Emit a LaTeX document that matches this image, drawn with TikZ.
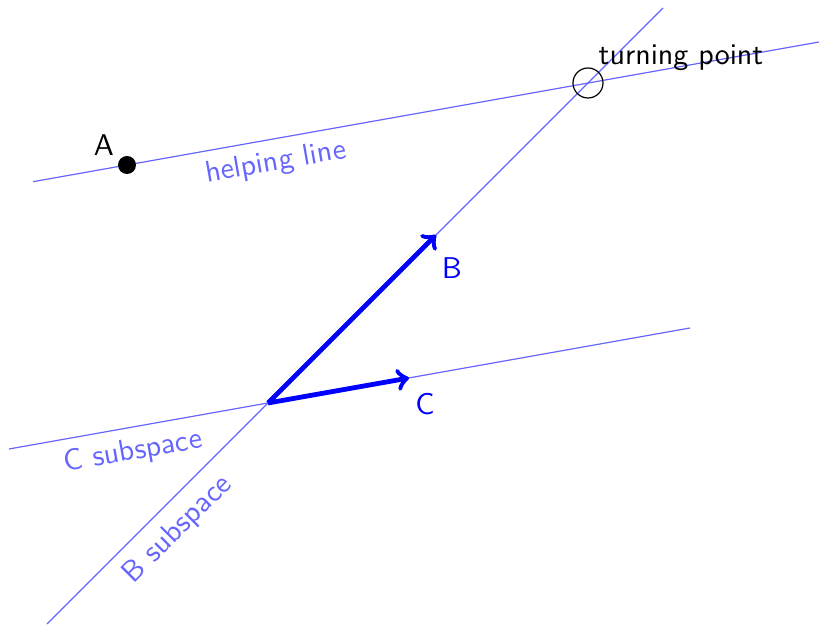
\documentclass[tikz,border=0pt]{standalone}
\begin{document}
\begin{tikzpicture}[x=0.33333pt,y=-0.33333pt,font=\sffamily,
  subline/.style={blue!60, line width=0.4pt},
  vec/.style={blue, ultra thick, ->},
  sublabel/.style={text=blue!60}]
\useasboundingbox (0,0) rectangle (819,625);
% points
\coordinate (O) at (268,403);
\coordinate (Bt) at (436,235);
\coordinate (Ct) at (409,378);
\coordinate (Bs) at (47,624);
\coordinate (Be) at (663,8);
\coordinate (Cs) at (9,449);
\coordinate (Ce) at (690,328);
\coordinate (Hs) at (33,181.7);
\coordinate (He) at (819,42);
\coordinate (A) at (127,165);
\coordinate (T) at (588,83);
% lines
\draw[subline] (Bs) -- (Be);
\draw[subline] (Cs) -- (Ce);
\draw[subline] (Hs) -- (He);
% vectors
\draw[vec] (O) -- (Bt);
\draw[vec] (O) -- (Ct);
% points
\fill (A) circle[radius=9];
\node (Alab) at (104,145) {A};
\draw (T) circle[radius=15];
\node (Tlab) at (681,58) {turning point};
% labels
\node[text=blue] (Blab) at (452,268) {B};
\node[text=blue] (Clab) at (425,404) {C};
\node[sublabel, rotate=10] (hl) at (276,163) {helping line};
\node[sublabel, rotate=10] (cs) at (133,452) {C subspace};
\node[sublabel, rotate=45] (bs) at (178,530) {B subspace};
\end{tikzpicture}
\end{document}
